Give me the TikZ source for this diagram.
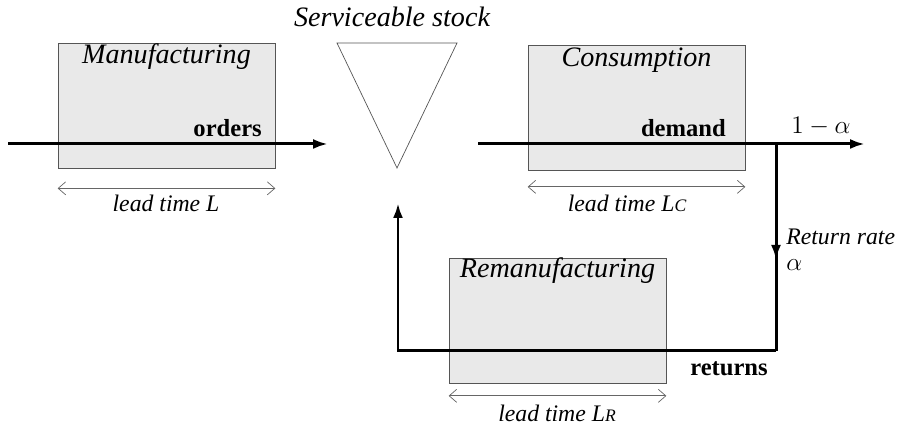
\documentclass[tikz,border=0pt]{standalone}
\usepackage{fontspec}
\setmainfont{Liberation Serif}
\usepackage{tikz}
\usetikzlibrary{arrows.meta, decorations.markings}
\definecolor{boxfill}{HTML}{E9E9E9}
\definecolor{boxline}{HTML}{555555}

\begin{document}
\begin{tikzpicture}[
  stage/.style={draw=boxline, fill=boxfill, minimum width=4.34cm, minimum height=2.5cm,
                inner sep=0pt},
  stagetitle/.style={font=\fontsize{16}{18}\selectfont\itshape},
  flowlabel/.style={font=\fontsize{14}{16}\selectfont\bfseries},
  leadlabel/.style={font=\fontsize{13.5}{16}\selectfont\itshape},
  flow/.style={line width=1.7pt, -{Latex[length=3mm, width=2mm]}},
  midflow/.style={line width=1.7pt, postaction={decorate},
    decoration={markings, mark=at position 0.56 with {\arrow{Latex[length=3mm, width=2mm]}}}},
  span/.style={gray!80!black, thin, {Straight Barb[length=1.5mm, width=2.6mm]}-{Straight Barb[length=1.5mm, width=2.6mm]}},
]
\useasboundingbox (0,0) rectangle (17.98,8.5);

% processes
\node[stage] (manu) at (3.33, 6.39) {};
\node[stage] (cons) at (12.73, 6.34) {};
\node[stage] (reman) at (11.15, 2.08) {};
\node[stagetitle] (manutitle) at (3.33, 7.36) {Manufacturing};
\node[stagetitle] (constitle) at (12.73, 7.3) {Consumption};
\node[stagetitle] (remantitle) at (11.15, 3.08) {Remanufacturing};

% stock point
\coordinate (stockA) at (6.74, 7.64);
\coordinate (stockB) at (9.14, 7.64);
\coordinate (stockC) at (7.94, 5.14);
\draw[boxline] (stockA) -- (stockB) -- (stockC) -- cycle;
\node[stagetitle] (stocktitle) at (7.84, 8.16) {Serviceable stock};

% flows
\coordinate (ordin) at (0.16, 5.62);
\coordinate (ordout) at (6.56, 5.62);
\coordinate (demin) at (9.56, 5.62);
\coordinate (demout) at (17.3, 5.62);
\coordinate (split) at (15.52, 5.62);
\coordinate (retcorner) at (15.52, 1.48);
\coordinate (backcorner) at (7.96, 1.48);
\coordinate (backin) at (7.96, 4.44);

\draw[flow] (ordin) -- (ordout);
\draw[flow] (demin) -- (demout);
\draw[midflow] (split) -- (retcorner);
\draw[flow] (retcorner) -- (backcorner) -- (backin);

\node[flowlabel, anchor=east] (orders) at (5.36, 5.94) {orders};
\node[flowlabel, anchor=east] (demand) at (14.64, 5.94) {demand};
\node[flowlabel] (returns) at (14.58, 1.12) {returns};
\node[font=\fontsize{14}{16}\selectfont] (rest) at (16.42, 5.98) {$1-\alpha$};
\node[leadlabel, anchor=west, inner sep=0pt] (rate) at (15.72, 3.76) {Return rate};
\node[font=\fontsize{14}{16}\selectfont, anchor=west, inner sep=0pt] (alpha) at (15.72, 3.2) {$\alpha$};

% lead times
\draw[span] ([yshift=-0.4cm]manu.south west) -- ([yshift=-0.4cm]manu.south east);
\draw[span] ([yshift=-0.32cm]cons.south west) -- ([yshift=-0.32cm]cons.south east);
\draw[span] ([yshift=-0.24cm]reman.south west) -- ([yshift=-0.24cm]reman.south east);
\node[leadlabel] (leadL) at (3.32, 4.44) {lead time L};
\node[leadlabel] (leadLc) at (12.54, 4.44) {lead time L{\fontsize{10}{12}\selectfont C}};
\node[leadlabel] (leadLr) at (11.14, 0.24) {lead time L{\fontsize{10}{12}\selectfont R}};

\end{tikzpicture}
\end{document}
